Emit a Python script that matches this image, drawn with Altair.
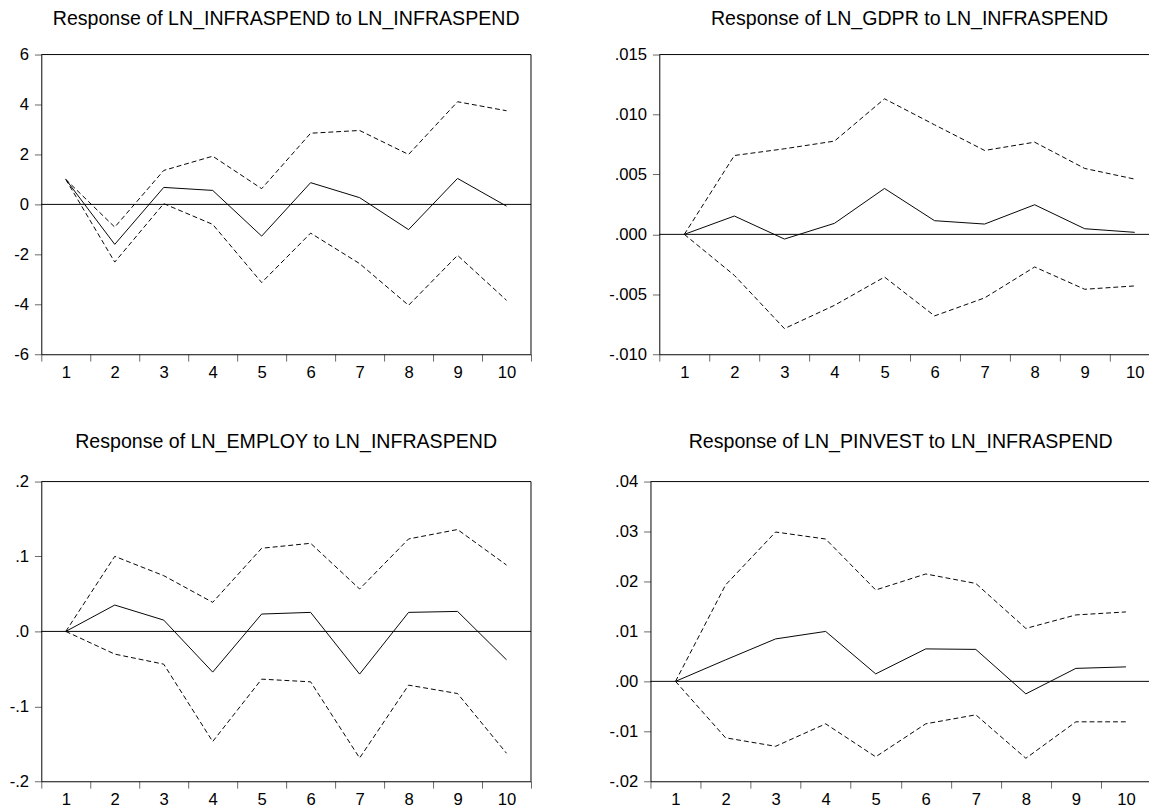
import altair as alt
import pandas as pd

steps = list(range(1, 11))

titles = [
    "Response of LN_INFRASPEND to LN_INFRASPEND",
    "Response of LN_GDPR to LN_INFRASPEND",
    "Response of LN_EMPLOY to LN_INFRASPEND",
    "Response of LN_PINVEST to LN_INFRASPEND",
]

infra_resp = [1.0, -1.60, 0.68, 0.56, -1.27, 0.87, 0.27, -1.01, 1.04, -0.07]
infra_upper = [1.0, -0.91, 1.36, 1.93, 0.63, 2.85, 2.96, 2.00, 4.11, 3.75]
infra_lower = [1.0, -2.31, 0.03, -0.80, -3.13, -1.15, -2.37, -4.04, -2.04, -3.84]

gdpr_resp = [0.0, 0.00153, -0.00039, 0.00092, 0.00383, 0.00114, 0.00086, 0.00247, 0.00047, 0.00017]
gdpr_upper = [0.0, 0.00658, 0.00714, 0.00778, 0.01131, 0.00914, 0.00700, 0.00769, 0.00550, 0.00461]
gdpr_lower = [0.0, -0.00342, -0.00786, -0.00592, -0.00356, -0.00680, -0.00530, -0.00272, -0.00458, -0.00430]

employ_resp = [0.0, 0.0352, 0.0151, -0.0543, 0.0232, 0.0254, -0.0570, 0.0254, 0.0267, -0.0379]
employ_upper = [0.0, 0.1002, 0.0744, 0.0388, 0.1110, 0.1176, 0.0566, 0.1234, 0.1360, 0.0886]
employ_lower = [0.0, -0.0303, -0.0437, -0.1470, -0.0637, -0.0673, -0.1690, -0.0717, -0.0829, -0.1626]

pinvest_resp = [0.0, 0.0043, 0.0085, 0.0100, 0.0015, 0.0065, 0.0064, -0.0025, 0.0026, 0.0029]
pinvest_upper = [0.0, 0.0193, 0.0299, 0.0285, 0.0183, 0.0215, 0.0196, 0.0106, 0.0133, 0.0139]
pinvest_lower = [0.0, -0.0113, -0.0130, -0.0085, -0.0151, -0.0085, -0.0067, -0.0154, -0.0081, -0.0081]

y_domains = [[-6, 6], [-0.010, 0.015], [-0.2, 0.2], [-0.02, 0.04]]
y_ticks = [
    [-6, -4, -2, 0, 2, 4, 6],
    [-0.010, -0.005, 0.0, 0.005, 0.010, 0.015],
    [-0.2, -0.1, 0.0, 0.1, 0.2],
    [-0.02, -0.01, 0.0, 0.01, 0.02, 0.03, 0.04],
]
y_decimals = [0, 3, 1, 2]

FONT = "Liberation Sans"
PH = 306


def panel(title, resp, upper, lower, domain, ticks, decimals, left_col, title_offset):
    df = pd.DataFrame({"step": steps, "resp": resp, "upper": upper, "lower": lower})
    if decimals == 0:
        lab = "(datum.value < 0 ? '-' : '') + format(abs(datum.value), 'd')"
    else:
        lab = ("(datum.value < 0 ? '-' : '') + replace(format(abs(datum.value), '.%df'), '0.', '.')"
               % decimals)
    ext = 34 if left_col else 36
    pw = 500 if left_col else 511
    x = alt.X(
        "step:O",
        scale=alt.Scale(type="band", paddingInner=0, paddingOuter=0),
        axis=alt.Axis(title=None, labelAngle=0, tickBand="extent", tickSize=7,
                      labelPadding=4, minExtent=30, maxExtent=30),
    )
    yscale = alt.Scale(domain=domain, nice=False, zero=False)
    yaxis = alt.Axis(title=None, values=ticks, labelExpr=lab, tickSize=7,
                     labelPadding=6, minExtent=ext, maxExtent=ext)

    def Y(field):
        return alt.Y(field + ":Q", scale=yscale, axis=yaxis, title=None)

    base = alt.Chart(df)
    one = base.transform_filter("datum.step == 1")
    solid = base.mark_line(color="black", strokeWidth=1).encode(x=x, y=Y("resp"))
    up = base.mark_line(color="black", strokeWidth=1, strokeDash=[5, 3]).encode(x=x, y=Y("upper"))
    lo = base.mark_line(color="black", strokeWidth=1, strokeDash=[5, 3]).encode(x=x, y=Y("lower"))
    zero = one.mark_rule(color="black", strokeWidth=1).encode(y=alt.datum(0))
    top_border = one.mark_rule(color="black", strokeWidth=1).encode(y=alt.value(0))
    layers = [solid, zero, up, lo, top_border]
    if left_col:
        layers.append(one.mark_rule(color="black", strokeWidth=1).encode(x=alt.value(pw)))
    return alt.layer(*layers).properties(
        width=pw, height=PH,
        title=alt.TitleParams(title, fontSize=20, font=FONT, fontWeight="normal",
                              color="black", offset=title_offset, anchor="middle",
                              frame="group"),
    )


series = [
    (infra_resp, infra_upper, infra_lower),
    (gdpr_resp, gdpr_upper, gdpr_lower),
    (employ_resp, employ_upper, employ_lower),
    (pinvest_resp, pinvest_upper, pinvest_lower),
]
offsets = [17, 17, 21, 21]

panels = [panel(titles[i], *series[i], y_domains[i], y_ticks[i], y_decimals[i],
                i % 2 == 0, offsets[i])
          for i in range(4)]

top = alt.hconcat(panels[0], panels[1], spacing=78)
bottom = alt.hconcat(panels[2], panels[3], spacing=78)

chart = alt.vconcat(top, bottom, spacing=50).properties(
    padding={"left": 0, "top": -7, "right": -12, "bottom": 0}
).configure_view(
    stroke=None
).configure_axis(
    domain=True, domainColor="black", domainWidth=1, grid=False,
    labelFont=FONT, labelFontSize=17, labelColor="black",
    tickColor="#666666", tickWidth=1
).configure_concat(spacing=0)

chart.save("out.html", embed_options={"renderer": "svg", "actions": False})
